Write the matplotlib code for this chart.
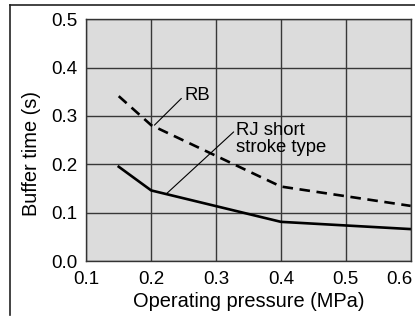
import matplotlib
matplotlib.use("Agg")
import matplotlib.pyplot as plt
from matplotlib.lines import Line2D
from matplotlib.transforms import ScaledTranslation

plt.rcParams['font.family'] = ['Liberation Sans', 'DejaVu Sans']

pressure = [0.15, 0.2, 0.4, 0.6]
rb_time = [0.341, 0.281, 0.154, 0.114]
rj_time = [0.195, 0.146, 0.081, 0.066]
x_ticks = [0.1, 0.2, 0.3, 0.4, 0.5, 0.6]
y_ticks = [0.0, 0.1, 0.2, 0.3, 0.4, 0.5]

W, H = 415, 316
fig = plt.figure(figsize=(W / 100, H / 100), dpi=100)
ax = fig.add_axes([86.3 / W, 1 - 261 / H, (410.7 - 86.3) / W, (261 - 19.3) / H])
ax.set_facecolor('#dcdcdc')

ax.plot(pressure, rb_time, color='black', lw=1.9, ls=(0, (4, 2.5)))
ax.plot(pressure, rj_time, color='black', lw=1.9)

ax.set_xlim(0.1, 0.6)
ax.set_ylim(0.0, 0.5)
ax.set_xticks(x_ticks)
ax.set_yticks(y_ticks)
ax.set_xticklabels([f"{v:.1f}" for v in x_ticks])
ax.set_yticklabels([f"{v:.1f}" for v in y_ticks])
ax.tick_params(length=0, labelsize=13.5, colors='black')
ax.tick_params(axis='x', pad=7.5)
ax.tick_params(axis='y', pad=6.5)
ax.grid(True, color='#383838', lw=1)
ax.set_axisbelow(True)
for s in ax.spines.values():
    s.set_color('#333333')
    s.set_linewidth(1)

# last x tick label sits slightly left so it stays inside the picture
lbl = ax.get_xticklabels()[-1]
lbl.set_transform(lbl.get_transform() + ScaledTranslation(-11 / 100, 0, fig.dpi_scale_trans))

ax.set_xlabel('Operating pressure (MPa)', fontsize=14.4, va='center')
ax.xaxis.set_label_coords(0.5, -0.168)
ax.set_ylabel('Buffer time (s)', fontsize=14.4, va='center', ha='center')
ax.yaxis.set_label_coords(-0.170, 0.443)

ax.annotate('RB', xy=(0.205, 0.281), xytext=(0.2508, 0.342),
            fontsize=13.3, va='center', ha='left',
            arrowprops=dict(arrowstyle='-', color='black', lw=0.8,
                            shrinkA=0, shrinkB=0, relpos=(0, 0.5)))
ax.annotate('RJ short\nstroke type', xy=(0.2226, 0.138), xytext=(0.3314, 0.2526),
            fontsize=13.3, va='center', ha='left', linespacing=1.0,
            arrowprops=dict(arrowstyle='-', color='black', lw=0.8,
                            shrinkA=0, shrinkB=0, relpos=(0, 0.78)))

# partial frame around figure
fig.add_artist(Line2D([10 / W, 1], [1 - 4.7 / H] * 2, color='#222222', lw=1.2))
fig.add_artist(Line2D([10 / W] * 2, [1 - 4.7 / H, 1 - 315 / H], color='#222222', lw=1.2))

fig.savefig('out.png', dpi=100)
